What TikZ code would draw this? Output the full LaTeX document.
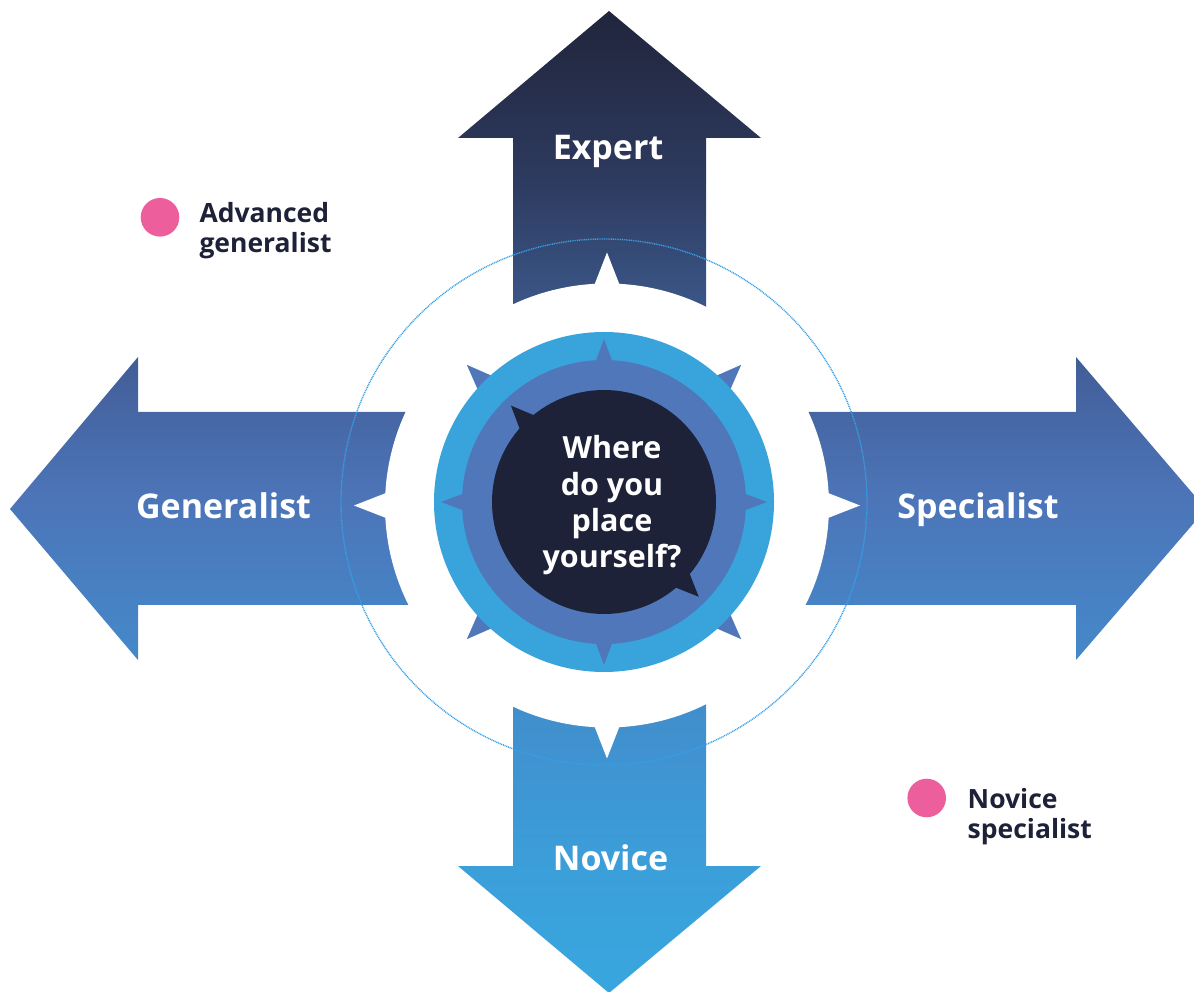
\documentclass[tikz,border=0pt]{standalone}
\usepackage{fontspec}
\setmainfont{Open Sans}
\definecolor{navy}{HTML}{1E2238}
\definecolor{midblue}{HTML}{4F77BA}
\definecolor{ringblue}{HTML}{39A4DC}
\definecolor{dotblue}{HTML}{35A0E6}
\definecolor{pinkdot}{HTML}{EC5F9C}
\definecolor{legendtxt}{HTML}{1E2238}
\definecolor{sh0}{HTML}{38A6DE}
\definecolor{sh1}{HTML}{3B9FDA}
\definecolor{sh2}{HTML}{418FCD}
\definecolor{sh3}{HTML}{4782C4}
\definecolor{sh4}{HTML}{4C75B8}
\definecolor{sh5}{HTML}{4563A0}
\definecolor{sh6}{HTML}{37507E}
\definecolor{sh7}{HTML}{2E3B60}
\definecolor{sh8}{HTML}{232942}
\definecolor{sh9}{HTML}{21253D}
\pgfdeclareverticalshading{arrowshade}{100bp}{color(0bp)=(sh0); color(25bp)=(sh0);
  color(31.1bp)=(sh1); color(38.7bp)=(sh2); color(44.7bp)=(sh3); color(49.8bp)=(sh4);
  color(55.1bp)=(sh5); color(61.1bp)=(sh6); color(65.7bp)=(sh7); color(72.7bp)=(sh8);
  color(75bp)=(sh9); color(100bp)=(sh9)}
\begin{document}
\begin{tikzpicture}[x=1pt,y=1pt,
  arrowlabel/.style={text=white,font=\fontsize{34}{40}\selectfont\bfseries,anchor=base,inner sep=0pt},
  legendtext/.style={text=legendtxt,font=\fontsize{26.5}{30}\selectfont\bfseries,anchor=base west,inner sep=0pt},
  legenddot/.style={circle,fill=pinkdot,minimum size=38.6pt,inner sep=0pt}]
\useasboundingbox (0,0) rectangle (1194,991);
% the four arrows, one shading from top to bottom
\begin{scope}
\clip (513,853) -- (458,853) -- (609,980) -- (761,853) -- (706,853) -- (706,579)
  -- (1076,579) -- (1076,634) -- (1206,482) -- (1076,331) -- (1076,386) -- (706,386)
  -- (706,125) -- (761,125) -- (609,-2) -- (458,125) -- (513,125) -- (513,386)
  -- (138,386) -- (138,331) -- (10,482) -- (138,634) -- (138,579) -- (513,579) -- cycle;
\shade[shading=arrowshade] (0,0) rectangle (1194,991);
\end{scope}
% white ring with notches
\coordinate (hub) at (607,485.5);
\coordinate (core) at (604,489);
\fill[white] (hub) circle (222);
\begin{scope}[shift={(hub)}]
\foreach \a in {0,90,180,270}
  \fill[white,rotate=\a] (253,0) -- (212,16) -- (212,-16) -- cycle;
\end{scope}
\draw[dotblue,line width=1.4pt,dash pattern=on 1pt off 0.8pt] (core) circle (263);
% compass in the middle
\begin{scope}[shift={(core)}]
\foreach \a in {45,135,225,315}
  \fill[midblue,rotate=\a] (194,0) -- (140,21) -- (140,-21) -- cycle;
\fill[ringblue] (0,0) circle (170);
\fill[midblue] (0,0) circle (142);
\foreach \a in {0,90,180,270}
  \fill[midblue,rotate=\a] (163,0) -- (135,10.5) -- (135,-10.5) -- cycle;
\fill[navy] (0,0) circle (112);
\foreach \a in {134,-45}
  \fill[navy,rotate=\a] (134,0) -- (105,12.5) -- (105,-12.5) -- cycle;
\end{scope}
\node[arrowlabel] (expert) at (608,831) {Expert};
\node[arrowlabel] (generalist) at (223.5,472) {Generalist};
\node[arrowlabel] (specialist) at (978,472) {Specialist};
\node[arrowlabel] (novice) at (610.5,120.5) {Novice};
\node[arrowlabel,font=\fontsize{30.5}{36.3}\selectfont\bfseries] (question) at (612,532)
  {\begin{tabular}[t]{@{}c@{}}Where\\do you\\place\\yourself?\end{tabular}};
% legend
\node[legenddot] (advdot) at (160,773.7) {};
\node[legendtext] (advanced) at (199.3,768.5)
  {\begin{tabular}[t]{@{}l@{}}Advanced\\generalist\end{tabular}};
\node[legenddot] (novdot) at (926.7,193) {};
\node[legendtext] (novspec) at (967.5,182)
  {\begin{tabular}[t]{@{}l@{}}Novice\\specialist\end{tabular}};
\end{tikzpicture}
\end{document}
